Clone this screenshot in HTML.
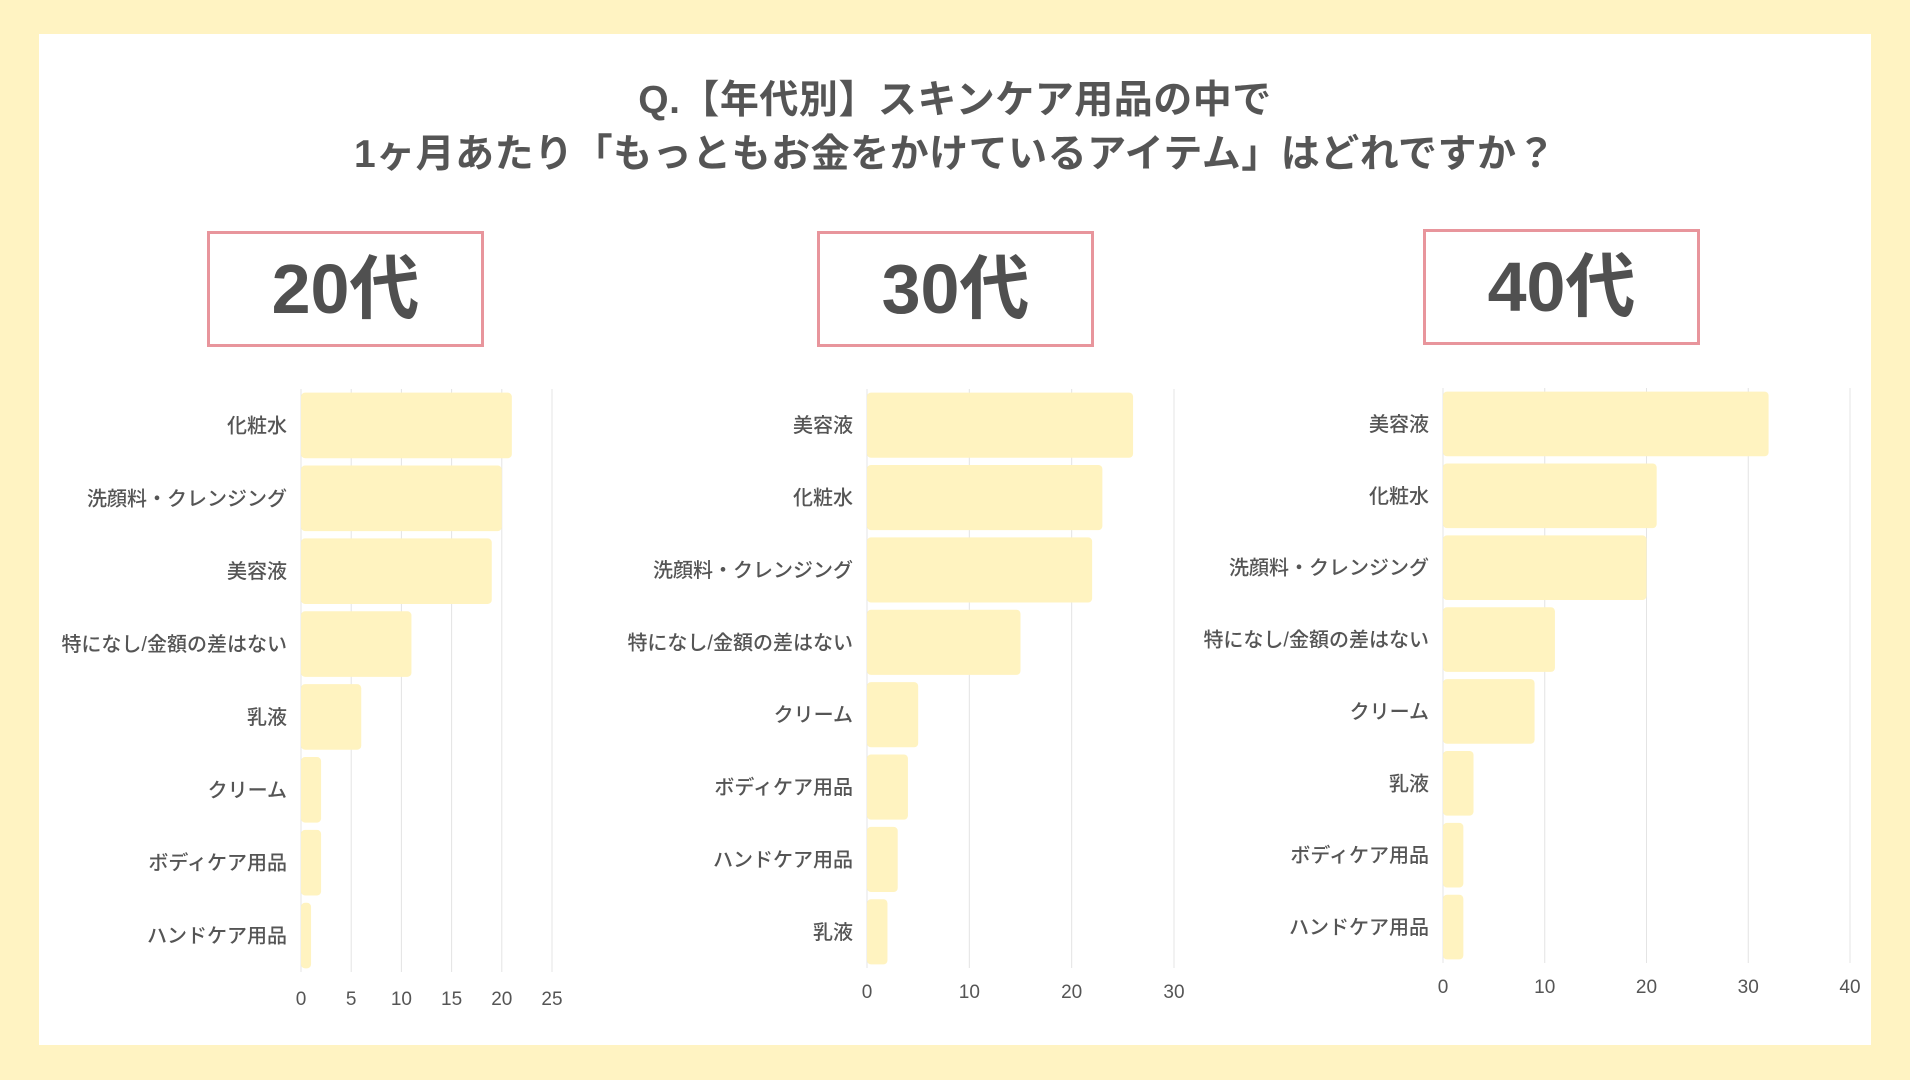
<!DOCTYPE html>
<html><head><meta charset="utf-8"><style>
body{margin:0;width:1910px;height:1080px;background:#fff3c2;font-family:"Liberation Sans","Noto Sans CJK JP",sans-serif;overflow:hidden;position:relative}
#panel{position:absolute;left:39px;top:34px;width:1832px;height:1011px;background:#fff}
.title{position:absolute;left:0;width:1910px;text-align:center;font-size:39px;font-weight:bold;color:#555;letter-spacing:0.5px}
.age{position:absolute;width:277px;height:116px;border:3px solid #e8959c;box-sizing:border-box;text-align:center;line-height:110px;font-size:70px;font-weight:bold;color:#505050}
svg{position:absolute;left:0;top:0}
</style></head><body>
<div id="panel"></div>
<div class="title" style="top:69px">Q.【年代別】スキンケア用品の中で</div>
<div class="title" style="top:123px">1ヶ月あたり「もっともお金をかけているアイテム」はどれですか？</div>
<div class="age" style="left:207px;top:231px">20代</div>
<div class="age" style="left:817px;top:231px">30代</div>
<div class="age" style="left:1423px;top:229px">40代</div>
<svg id="svg" width="1910" height="1080" xmlns="http://www.w3.org/2000/svg"></svg>
<script>
const cats20=["化粧水","洗顔料・クレンジング","美容液","特になし/金額の差はない","乳液","クリーム","ボディケア用品","ハンドケア用品"];
const vals20=[21,20,19,11,6,2,2,1];
const ticks20=[0,5,10,15,20,25];
const cats30=["美容液","化粧水","洗顔料・クレンジング","特になし/金額の差はない","クリーム","ボディケア用品","ハンドケア用品","乳液"];
const vals30=[26,23,22,15,5,4,3,2];
const ticks30=[0,10,20,30];
const cats40=["美容液","化粧水","洗顔料・クレンジング","特になし/金額の差はない","クリーム","乳液","ボディケア用品","ハンドケア用品"];
const vals40=[32,21,20,11,9,3,2,2];
const ticks40=[0,10,20,30,40];
const svg=document.getElementById('svg');
const NS="http://www.w3.org/2000/svg";
function mk(tag,attrs){const e=document.createElementNS(NS,tag);for(const k in attrs)e.setAttribute(k,attrs[k]);svg.appendChild(e);return e;}
function chart(id,cats,vals,ticks,x0,x1,y0,y1,ty){
  const max=ticks[ticks.length-1];
  const xs=v=>x0+(x1-x0)*v/max;
  const band=(y1-y0)/cats.length;
  ticks.forEach(t=>{
    const l=mk('line',{x1:xs(t),x2:xs(t),y1:y0,y2:y1,stroke:'#e4e4e4','stroke-width':1});
    
    
    const tx=mk('text',{x:xs(t),y:ty,'text-anchor':'middle','font-size':19,fill:'#555'});
    tx.textContent=t;
    
    
  });
  cats.forEach((c,i)=>{
    const y=y0+band*i+band*0.05;
    const r=mk('rect',{x:x0,y:y,width:Math.max(0,xs(vals[i])-x0),height:band*0.9,rx:4,fill:'#fff3c0'});
    
    
    const tx=mk('text',{x:x0-14,y:y0+band*(i+0.5)+7,'text-anchor':'end','font-size':20,'font-weight':500,fill:'#555'});
    tx.textContent=c;
    
    
  });
}
chart('chart-20s',cats20,vals20,ticks20,301,552,389,972,1005);
chart('chart-30s',cats30,vals30,ticks30,867,1174,389,968,998);
chart('chart-40s',cats40,vals40,ticks40,1443,1850,388,963,993);
</script>
</body></html>
